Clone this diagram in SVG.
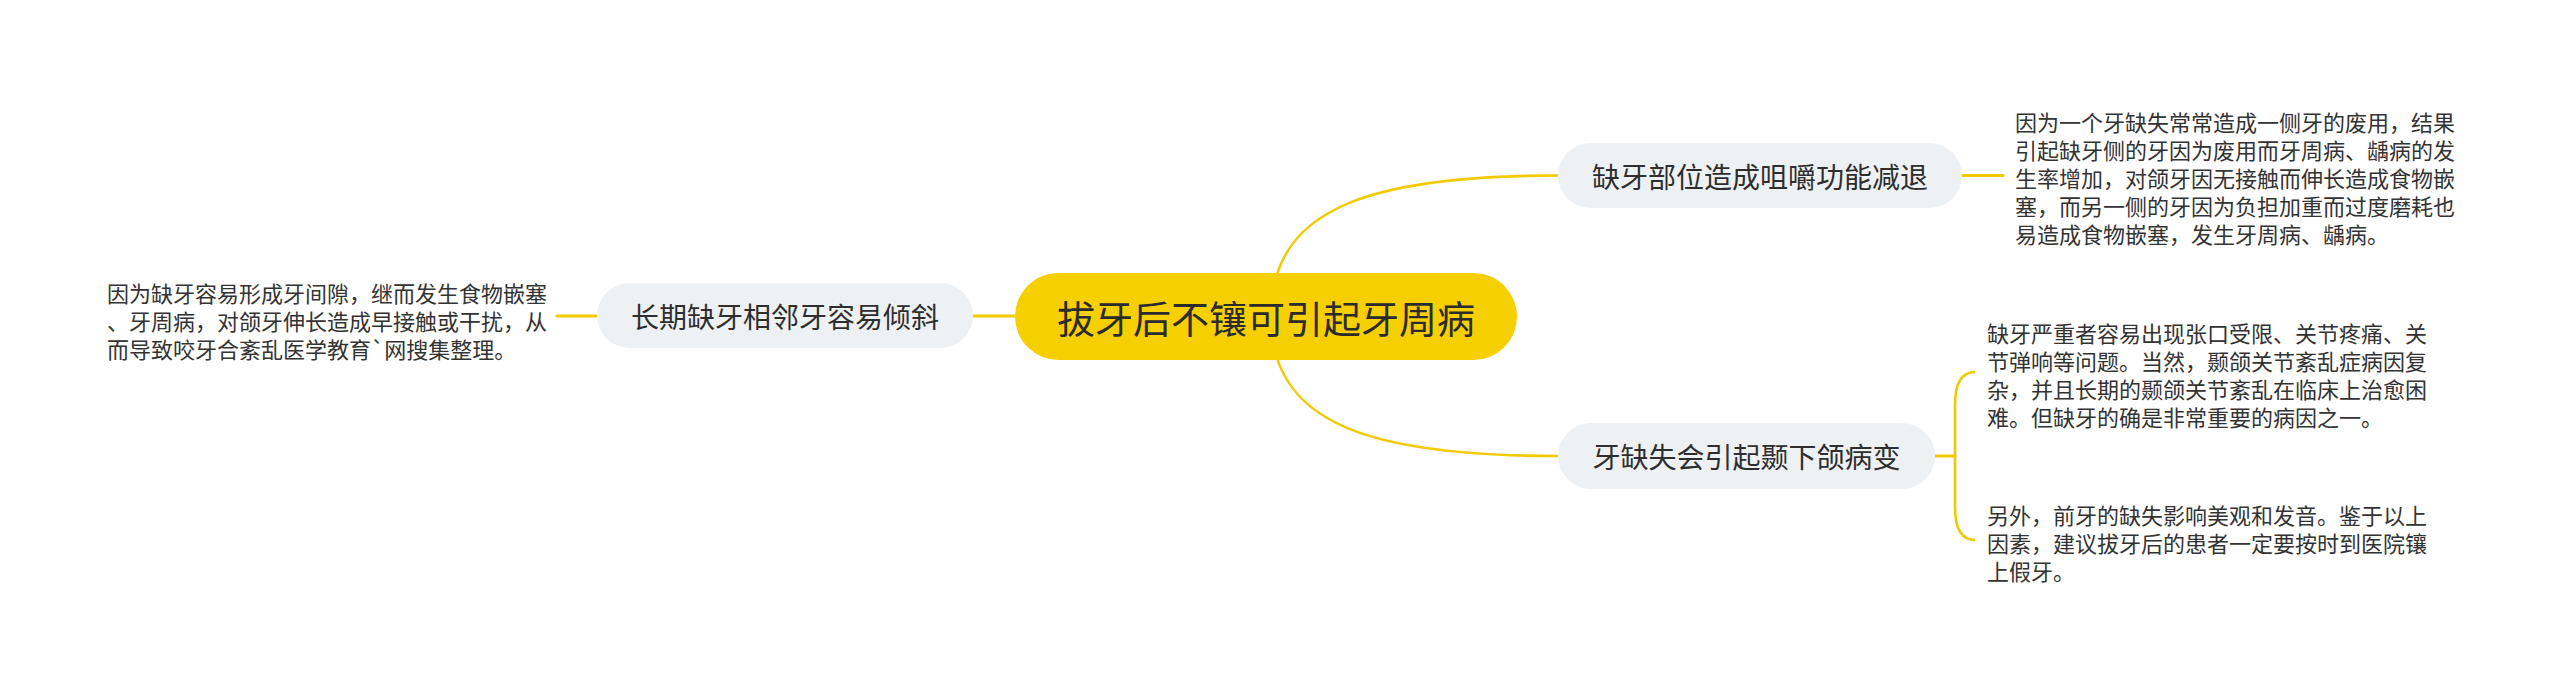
<svg xmlns="http://www.w3.org/2000/svg" width="2560" height="688" viewBox="0 0 2560 688">
<style>
.line{fill:none;stroke:#F2CA00;stroke-width:3;stroke-linecap:round}
.curve{fill:none;stroke:#F2CA00;stroke-width:2.6}
.sub{fill:#EEF1F4}
.root{fill:#F5CF00}
text{font-family:"Noto Sans CJK SC","Noto Sans",sans-serif;dominant-baseline:central;fill:#333333}
.rt{font-size:38px;fill:#2B2B2B;text-anchor:middle}
.st{font-size:28px;fill:#2E2E2E;text-anchor:middle}
.pt{font-size:22px;fill:#333333}
</style>
<rect width="2560" height="688" fill="#FFFFFF"/>
<g id="connectors">
<path class="curve" d="M1272,300 C1280,205 1380,175.5 1558,175.5"/>
<path class="curve" d="M1272,332 C1280,427 1380,456 1558,456"/>
<line class="line" x1="973" y1="316" x2="1015" y2="316"/>
<line class="line" x1="557" y1="316" x2="597" y2="316"/>
<line class="line" x1="1962" y1="175.5" x2="2003" y2="175.5"/>
<line class="line" x1="1935" y1="456" x2="1955" y2="456"/>
<path class="curve" d="M1975,372 C1961,372 1955,384 1955,405 L1955,507 C1955,528 1961,540 1975,540"/>
</g>
<g id="root">
<rect class="root" x="1015" y="273" width="502" height="87" rx="43.5"/>
<text class="rt" x="1266" y="316.5">拔牙后不镶可引起牙周病</text>
</g>
<g id="node-left">
<rect class="sub" x="597" y="283" width="376" height="65" rx="32.5"/>
<text class="st" x="785" y="315.5">长期缺牙相邻牙容易倾斜</text>
</g>
<g id="node-top-right">
<rect class="sub" x="1558" y="143" width="404" height="65" rx="32.5"/>
<text class="st" x="1760" y="175.5">缺牙部位造成咀嚼功能减退</text>
</g>
<g id="node-bottom-right">
<rect class="sub" x="1558" y="423" width="377" height="66" rx="33"/>
<text class="st" x="1746.5" y="456">牙缺失会引起颞下颌病变</text>
</g>
<g id="text-left">
<text class="pt" x="107" y="291.5">因为缺牙容易形成牙间隙，继而发生食物嵌塞</text>
<text class="pt" x="107" y="319.5">、牙周病，对颌牙伸长造成早接触或干扰，从</text>
<text class="pt" x="107" y="347.5">而导致咬牙合紊乱医学教育`网搜集整理。</text>
</g>
<g id="text-top-right">
<text class="pt" x="2015" y="121.3">因为一个牙缺失常常造成一侧牙的废用，结果</text>
<text class="pt" x="2015" y="149.3">引起缺牙侧的牙因为废用而牙周病、龋病的发</text>
<text class="pt" x="2015" y="177.3">生率增加，对颌牙因无接触而伸长造成食物嵌</text>
<text class="pt" x="2015" y="205.3">塞，而另一侧的牙因为负担加重而过度磨耗也</text>
<text class="pt" x="2015" y="233.3">易造成食物嵌塞，发生牙周病、龋病。</text>
</g>
<g id="text-bottom-right-1">
<text class="pt" x="1987" y="331.7">缺牙严重者容易出现张口受限、关节疼痛、关</text>
<text class="pt" x="1987" y="359.7">节弹响等问题。当然，颞颌关节紊乱症病因复</text>
<text class="pt" x="1987" y="387.7">杂，并且长期的颞颌关节紊乱在临床上治愈困</text>
<text class="pt" x="1987" y="415.7">难。但缺牙的确是非常重要的病因之一。</text>
</g>
<g id="text-bottom-right-2">
<text class="pt" x="1987" y="513.7">另外，前牙的缺失影响美观和发音。鉴于以上</text>
<text class="pt" x="1987" y="541.7">因素，建议拔牙后的患者一定要按时到医院镶</text>
<text class="pt" x="1987" y="569.7">上假牙。</text>
</g>
</svg>
